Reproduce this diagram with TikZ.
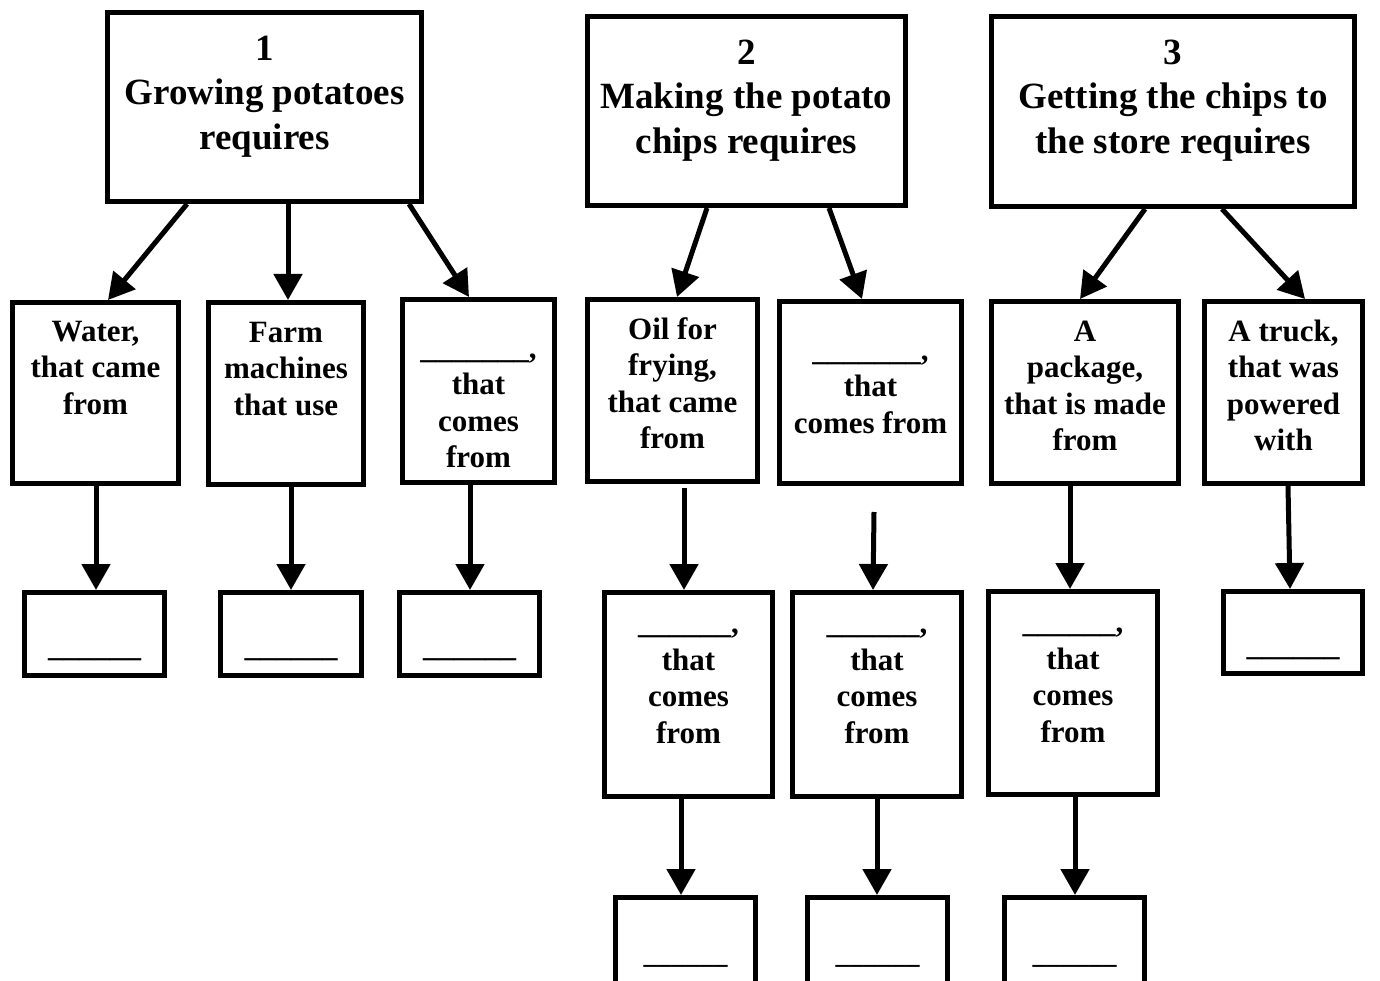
\documentclass[tikz,border=0pt]{standalone}
\usepackage{fontspec}
\setmainfont{Liberation Serif}
\usetikzlibrary{arrows.meta}
\begin{document}
\begin{tikzpicture}[x=1pt,y=-1pt,
  bx/.style={draw, line width=5pt, inner sep=0pt, outer sep=2.5pt},
  arr/.style={line width=5pt, -{Triangle[length=26pt,width=28pt]}},
  tt/.style={font=\bfseries\fontsize{37}{44.5}\selectfont, align=center, inner sep=0pt, anchor=north},
  rt/.style={font=\bfseries\fontsize{31}{36.5}\selectfont, align=center, inner sep=0pt, anchor=north},
  st/.style={font=\bfseries\fontsize{28}{33}\selectfont, inner sep=0pt, anchor=north}]
\useasboundingbox (0,0) rectangle (1380,981);
\clip (0,0) rectangle (1380,981);
\fill[white] (0,0) rectangle (1380,981);
% top boxes
\node[bx, minimum width=314pt, minimum height=189pt] (T1) at (264.5,107) {};
\node[bx, minimum width=318pt, minimum height=189pt] (T2) at (746.5,111) {};
\node[bx, minimum width=363pt, minimum height=190pt] (T3) at (1173,111.5) {};
% second row
\node[bx, minimum width=166pt, minimum height=181pt] (B1a) at (95.5,393) {};
\node[bx, minimum width=155pt, minimum height=182pt] (B1b) at (286,393.5) {};
\node[bx, minimum width=152pt, minimum height=183pt] (B1c) at (478.5,391) {};
\node[bx, minimum width=170pt, minimum height=182pt] (B2a) at (672.5,390.5) {};
\node[bx, minimum width=182pt, minimum height=182pt] (B2b) at (870.5,392.5) {};
\node[bx, minimum width=187pt, minimum height=182pt] (B3a) at (1085,392.5) {};
\node[bx, minimum width=158pt, minimum height=182pt] (B3b) at (1283.5,392.5) {};
% third row
\node[bx, minimum width=140pt, minimum height=83pt] (C1a) at (94.5,634) {};
\node[bx, minimum width=141pt, minimum height=83pt] (C1b) at (291,634) {};
\node[bx, minimum width=140pt, minimum height=83pt] (C1c) at (469.5,634) {};
\node[bx, minimum width=168pt, minimum height=204pt] (M2a) at (688.5,694.5) {};
\node[bx, minimum width=169pt, minimum height=204pt] (M2b) at (877,694.5) {};
\node[bx, minimum width=169pt, minimum height=203pt] (M3a) at (1073,693) {};
\node[bx, minimum width=139pt, minimum height=82pt] (C3b) at (1293,632.5) {};
% fourth row
\node[bx, minimum width=140pt, minimum height=90pt] (D2a) at (685.5,942.5) {};
\node[bx, minimum width=140pt, minimum height=90pt] (D2b) at (877.5,942.5) {};
\node[bx, minimum width=140pt, minimum height=90pt] (D3a) at (1074.5,942.5) {};
% texts
\node[tt, yshift=-18.7pt] (tT1) at (T1.north) {\strut 1\\Growing potatoes\\requires};
\node[tt, yshift=-18.7pt] (tT2) at (T2.north) {\strut 2\\Making the potato\\chips requires};
\node[tt, yshift=-18.7pt] (tT3) at (T3.north) {\strut 3\\Getting the chips to\\the store requires};
\node[rt, yshift=-15.5pt] (tB1a) at (B1a.north) {\strut Water,\\that came\\from};
\node[rt, yshift=-16.5pt] (tB1b) at (B1b.north) {\strut Farm\\machines\\that use};
\node[rt, yshift=-35.5pt] (tB1c) at (B1c.north) {\strut\_\_\_\_\_\_\_,\\that\\comes\\from};
\node[rt, yshift=-16.5pt] (tB2a) at (B2a.north) {\strut Oil for\\frying,\\that came\\from};
\node[rt, yshift=-35.5pt] (tB2b) at (B2b.north) {\strut\_\_\_\_\_\_\_,\\that\\comes from};
\node[rt, yshift=-16.5pt] (tB3a) at (B3a.north) {\strut A\\package,\\that is made\\from};
\node[rt, yshift=-16.5pt] (tB3b) at (B3b.north) {\strut A truck,\\that was\\powered\\with};
\node[rt, yshift=-18pt] (tM2a) at (M2a.north) {\strut\_\_\_\_\_\_,\\that\\comes\\from};
\node[rt, yshift=-18pt] (tM2b) at (M2b.north) {\strut\_\_\_\_\_\_,\\that\\comes\\from};
\node[rt, yshift=-18pt] (tM3a) at (M3a.north) {\strut\_\_\_\_\_\_,\\that\\comes\\from};
\node[rt, yshift=-41pt] (tC1a) at (C1a.north) {\strut\_\_\_\_\_\_};
\node[rt, yshift=-41pt] (tC1b) at (C1b.north) {\strut\_\_\_\_\_\_};
\node[rt, yshift=-41pt] (tC1c) at (C1c.north) {\strut\_\_\_\_\_\_};
\node[rt, yshift=-41pt] (tC3b) at (C3b.north) {\strut\_\_\_\_\_\_};
\node[st, yshift=-45pt] (tD2a) at (D2a.north) {\strut\_\_\_\_\_\_};
\node[st, yshift=-45pt] (tD2b) at (D2b.north) {\strut\_\_\_\_\_\_};
\node[st, yshift=-45pt] (tD3a) at (D3a.north) {\strut\_\_\_\_\_\_};
% arrows from top boxes
\draw[arr] ([xshift=-77.5pt]T1.south) -- ([xshift=12.5pt]B1a.north);
\draw[arr] ([xshift=23.5pt]T1.south) -- ([xshift=2pt]B1b.north);
\draw[arr] ([xshift=144.5pt]T1.south) -- ([xshift=-9.5pt]B1c.north);
\draw[arr] ([xshift=-39.5pt]T2.south) -- ([xshift=4.5pt]B2a.north);
\draw[arr] ([xshift=82.5pt]T2.south) -- ([xshift=-8.5pt]B2b.north);
\draw[arr] ([xshift=-28pt]T3.south) -- ([xshift=-5pt]B3a.north);
\draw[arr] ([xshift=49pt]T3.south) -- ([xshift=21.5pt]B3b.north);
% vertical arrows
\draw[arr] ([xshift=0.5pt]B1a.south) -- ([xshift=1.5pt]C1a.north);
\draw[arr] ([xshift=5pt]B1b.south) -- ([xshift=0pt]C1b.north);
\draw[arr] ([xshift=-8.5pt]B1c.south) -- ([xshift=0.5pt]C1c.north);
\draw[arr] ([xshift=11.5pt,yshift=-4pt]B2a.south) -- ([xshift=-4.5pt]M2a.north);
\draw[arr] ([xshift=3.5pt,yshift=-26pt]B2b.south) -- ([xshift=-4pt]M2b.north);
\draw[arr] ([xshift=-15pt]B3a.south) -- ([xshift=-3pt]M3a.north);
\draw[arr] ([xshift=4.5pt]B3b.south) -- ([xshift=-3pt]C3b.north);
\draw[arr] ([xshift=-7.5pt]M2a.south) -- ([xshift=-4.5pt]D2a.north);
\draw[arr] ([xshift=0pt]M2b.south) -- ([xshift=-0.5pt]D2b.north);
\draw[arr] ([xshift=2pt]M3a.south) -- ([xshift=0.5pt]D3a.north);
\end{tikzpicture}
\end{document}
